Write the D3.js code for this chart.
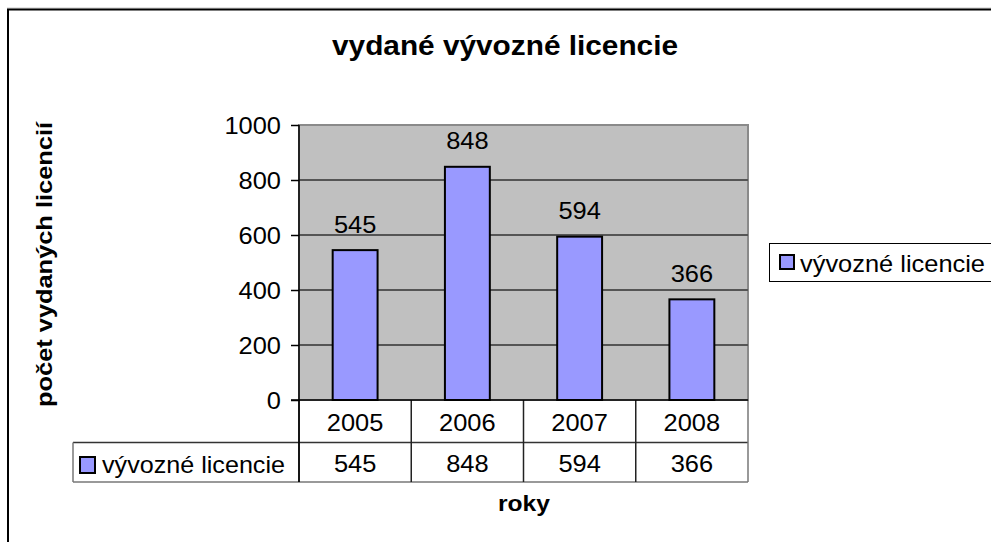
<!DOCTYPE html>
<html>
<head>
<meta charset="utf-8">
<script src="https://cdn.jsdelivr.net/npm/d3@7"></script>
<style>
    body { margin: 0; background: #fff; }
    svg { display: block; font-family: "Liberation Sans", Arial, sans-serif; }
</style>
</head>
<body>
<svg id="chart" width="991" height="542"></svg>
<script>
const years = ["2005", "2006", "2007", "2008"];
const licences = [545, 848, 594, 366];
const yTicks = [0, 200, 400, 600, 800, 1000];
const seriesName = "vývozné licencie";

const chartTitle = "vydané vývozné licencie";
const yTitle = "počet vydaných licencií";
const xTitle = "roky";

const barColor = "#9999ff";
const plotColor = "#c0c0c0";

const plot = { left: 299, right: 748, top: 125, bottom: 400 };
const numStretch = 1.06;   // the source font renders a bit wider than Liberation Sans

// widen a text by a factor, keeping its anchor
function stretch(sel, k) {
    sel.each(function () {
        var w = this.getComputedTextLength();
        d3.select(this).attr("textLength", w * k).attr("lengthAdjust", "spacingAndGlyphs");
    });
}
function fitTo(sel, w) {
    sel.attr("textLength", w).attr("lengthAdjust", "spacingAndGlyphs");
}

var svg = d3.select("#chart");

// outer frame (runs off the page on right and bottom)
svg.append("line").attr("x1", 7).attr("x2", 991).attr("y1", 8).attr("y2", 8)
    .attr("stroke", "#c8c8c8").attr("stroke-width", 1);
svg.append("rect")
    .attr("x", 8).attr("y", 9.5)
    .attr("width", 1100).attr("height", 600)
    .attr("fill", "none").attr("stroke", "#000").attr("stroke-width", 2);

var xScale = d3.scaleBand()
    .domain(years)
    .range([plot.left, plot.right])
    .padding(0);

var yScale = d3.scaleLinear()
    .domain([0, 1000])
    .range([plot.bottom, plot.top]);

// plot area
svg.append("rect")
    .attr("x", plot.left).attr("y", plot.top)
    .attr("width", plot.right - plot.left).attr("height", plot.bottom - plot.top)
    .attr("fill", plotColor)
    .attr("stroke", "#8a8a8a").attr("stroke-width", 2);

// gridlines
svg.append("g")
    .selectAll("line")
    .data(yTicks.filter(d => d > 0 && d < 1000))
    .enter().append("line")
    .attr("x1", plot.left).attr("x2", plot.right)
    .attr("y1", d => yScale(d)).attr("y2", d => yScale(d))
    .attr("stroke", "#555").attr("stroke-width", 2);

// y axis
var yAxis = d3.axisLeft(yScale)
    .tickValues(yTicks)
    .tickFormat(d3.format("d"))
    .tickSize(8)
    .tickPadding(10);

var yG = svg.append("g")
    .attr("transform", "translate(" + plot.left + ",0)")
    .call(yAxis);
yG.select(".domain").remove();
yG.selectAll(".tick line").attr("stroke", "#000").attr("stroke-width", 1.5);
yG.selectAll(".tick text")
    .attr("fill", "#000")
    .attr("dy", "0.36em")
    .style("font-size", "24px")
    .style("font-family", "'Liberation Sans', Arial, sans-serif")
    .call(stretch, numStretch);

// bars
var barW = xScale.bandwidth() * 0.4;
svg.append("g")
    .selectAll("rect")
    .data(licences)
    .enter().append("rect")
    .attr("x", (d, i) => xScale(years[i]) + (xScale.bandwidth() - barW) / 2)
    .attr("y", d => yScale(d))
    .attr("width", barW)
    .attr("height", d => yScale(0) - yScale(d))
    .attr("fill", barColor)
    .attr("stroke", "#000").attr("stroke-width", 2);

// bar value labels
svg.append("g")
    .selectAll("text")
    .data(licences)
    .enter().append("text")
    .attr("x", (d, i) => xScale(years[i]) + xScale.bandwidth() / 2)
    .attr("y", d => yScale(d) - 17.5)
    .attr("text-anchor", "middle")
    .style("font-size", "24px")
    .text(d => d)
    .call(stretch, numStretch);

// data table
var tbl = svg.append("g");
var tableLeft = 73;
var row1 = plot.bottom, row2 = 442.5, row3 = 482;

tbl.append("line").attr("x1", tableLeft).attr("x2", plot.right)
    .attr("y1", row2).attr("y2", row2).attr("stroke", "#333").attr("stroke-width", 1.5);
tbl.append("line").attr("x1", tableLeft).attr("x2", plot.right)
    .attr("y1", row3).attr("y2", row3).attr("stroke", "#777").attr("stroke-width", 1.5);
tbl.append("line").attr("x1", tableLeft).attr("x2", tableLeft)
    .attr("y1", row2).attr("y2", row3).attr("stroke", "#777").attr("stroke-width", 1.5);

tbl.selectAll(".vline")
    .data(years.concat(["end"]))
    .enter().append("line")
    .attr("class", "vline")
    .attr("x1", (d, i) => i < years.length ? xScale(d) : plot.right)
    .attr("x2", (d, i) => i < years.length ? xScale(d) : plot.right)
    .attr("y1", row1).attr("y2", row3)
    .attr("stroke", (d, i) => i == years.length ? "#777" : "#222")
    .attr("stroke-width", 1.5);

// zero line
svg.append("line")
    .attr("x1", plot.left - 8).attr("x2", plot.right)
    .attr("y1", plot.bottom).attr("y2", plot.bottom)
    .attr("stroke", "#000").attr("stroke-width", 1.5);
// axis line down through table
svg.append("line")
    .attr("x1", plot.left).attr("x2", plot.left)
    .attr("y1", plot.top).attr("y2", row3)
    .attr("stroke", "#000").attr("stroke-width", 1.5);

tbl.selectAll(".yr")
    .data(years)
    .enter().append("text")
    .attr("class", "yr")
    .attr("x", d => xScale(d) + xScale.bandwidth() / 2)
    .attr("y", 430.5)
    .attr("text-anchor", "middle")
    .style("font-size", "24px")
    .text(d => d)
    .call(stretch, numStretch);

tbl.selectAll(".val")
    .data(licences)
    .enter().append("text")
    .attr("class", "val")
    .attr("x", (d, i) => xScale(years[i]) + xScale.bandwidth() / 2)
    .attr("y", 471.5)
    .attr("text-anchor", "middle")
    .style("font-size", "24px")
    .text(d => d)
    .call(stretch, numStretch);

tbl.append("rect")
    .attr("x", 80).attr("y", 457).attr("width", 15).attr("height", 16)
    .attr("fill", barColor).attr("stroke", "#000").attr("stroke-width", 2);
tbl.append("text")
    .attr("x", 102).attr("y", 473)
    .style("font-size", "24px")
    .text(seriesName)
    .call(fitTo, 183);

// legend
var leg = svg.append("g");
leg.append("rect")
    .attr("x", 769.5).attr("y", 243.5).attr("width", 300).attr("height", 38)
    .attr("fill", "#fff").attr("stroke", "#000").attr("stroke-width", 1);
leg.append("rect")
    .attr("x", 780).attr("y", 255).attr("width", 14).attr("height", 14)
    .attr("fill", barColor).attr("stroke", "#000").attr("stroke-width", 2);
leg.append("text")
    .attr("x", 800).attr("y", 272)
    .style("font-size", "24px")
    .text(seriesName)
    .call(fitTo, 185);

// titles
svg.append("text")
    .attr("x", 332).attr("y", 55)
    .style("font-size", "27px").style("font-weight", "bold")
    .text(chartTitle)
    .call(fitTo, 346);

svg.append("text")
    .attr("transform", "translate(52,407) rotate(-90)")
    .style("font-size", "22px").style("font-weight", "bold")
    .text(yTitle)
    .call(fitTo, 285);

svg.append("text")
    .attr("x", 498).attr("y", 511)
    .style("font-size", "22px").style("font-weight", "bold")
    .text(xTitle)
    .call(fitTo, 52);
</script>
</body>
</html>
